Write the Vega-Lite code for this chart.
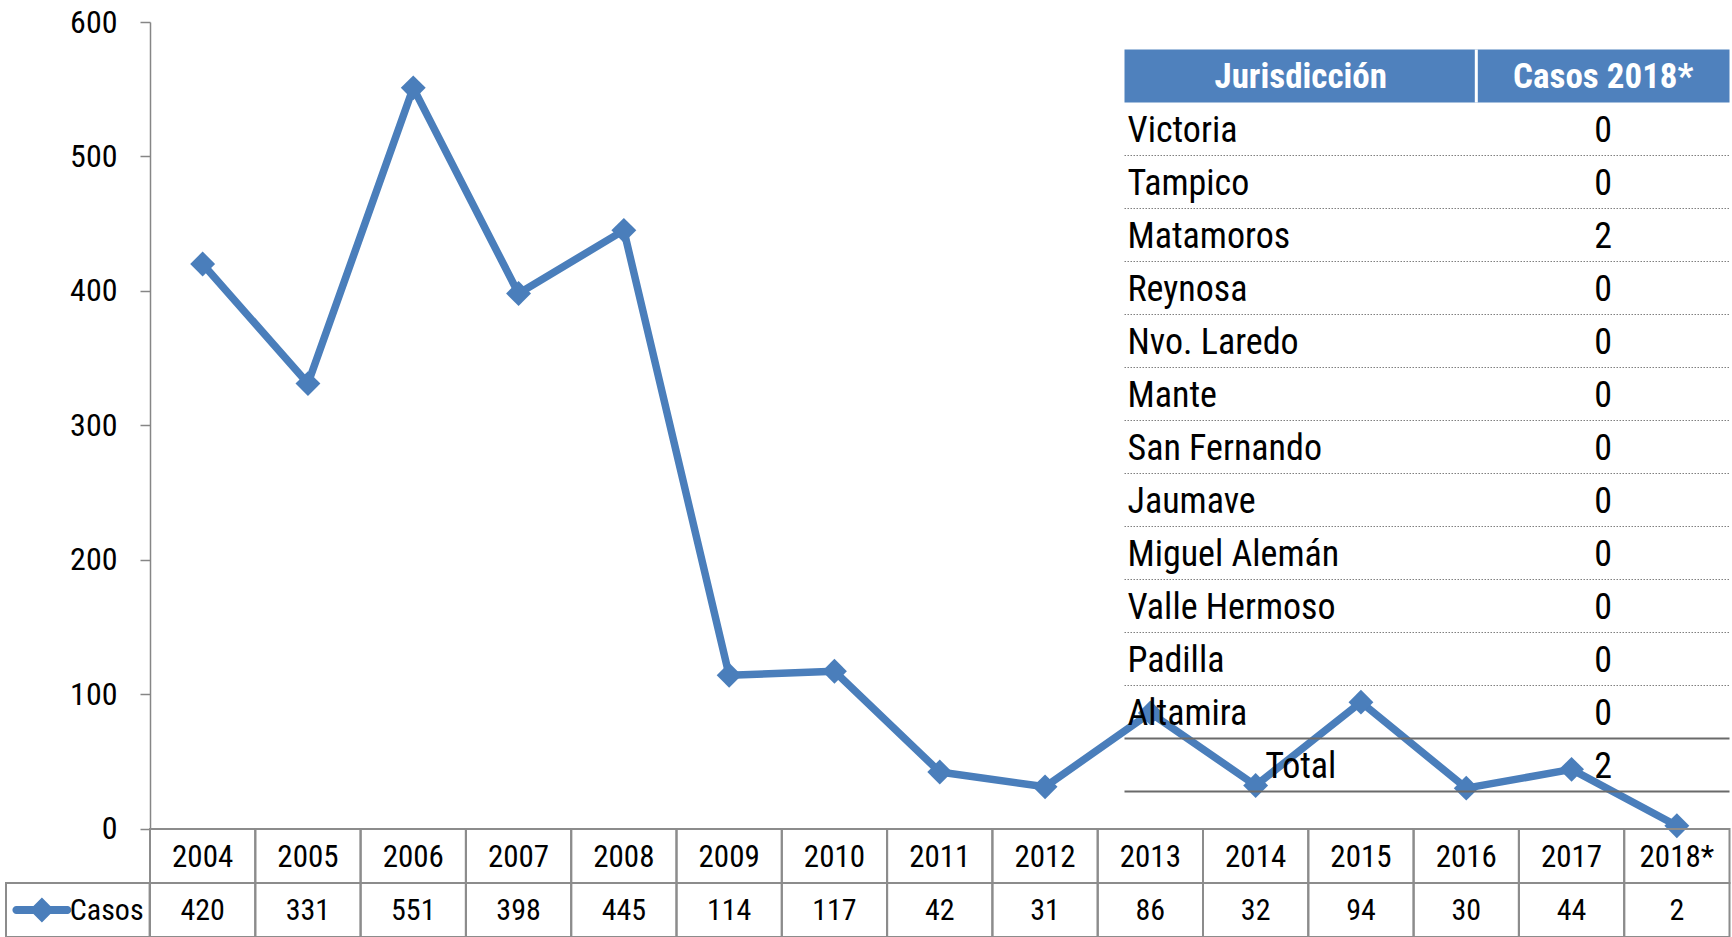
{
  "$schema": "https://vega.github.io/schema/vega-lite/v6.json",
  "padding": {"left": 5, "top": 6, "right": 2, "bottom": 0},
  "background": "white",
  "config": {"font": "'Roboto Condensed', 'DejaVu Sans Condensed', sans-serif", "view": {"stroke": null}},
  "datasets": {
    "casos": [
      {"year": "2004", "casos": 420}, {"year": "2005", "casos": 331}, {"year": "2006", "casos": 551},
      {"year": "2007", "casos": 398}, {"year": "2008", "casos": 445}, {"year": "2009", "casos": 114},
      {"year": "2010", "casos": 117}, {"year": "2011", "casos": 42}, {"year": "2012", "casos": 31},
      {"year": "2013", "casos": 86}, {"year": "2014", "casos": 32}, {"year": "2015", "casos": 94},
      {"year": "2016", "casos": 30}, {"year": "2017", "casos": 44}, {"year": "2018*", "casos": 2}
    ],
    "jurisdicciones": [
      {"jur": "Victoria", "casos": 0}, {"jur": "Tampico", "casos": 0}, {"jur": "Matamoros", "casos": 2},
      {"jur": "Reynosa", "casos": 0}, {"jur": "Nvo. Laredo", "casos": 0}, {"jur": "Mante", "casos": 0},
      {"jur": "San Fernando", "casos": 0}, {"jur": "Jaumave", "casos": 0}, {"jur": "Miguel Alemán", "casos": 0},
      {"jur": "Valle Hermoso", "casos": 0}, {"jur": "Padilla", "casos": 0}, {"jur": "Altamira", "casos": 0},
      {"jur": "Total", "casos": 2}
    ],
    "encabezado": [{"col": "Jurisdicción"}, {"col": "Casos 2018*"}]
  },
  "columns": 2,
  "spacing": 0,
  "bounds": "flush",
  "align": "each",
  "concat": [
    {
      "width": 143.6, "height": 806.5,
      "data": {"values": []},
      "mark": {"type": "text"},
      "encoding": {}
    },
    {
      "width": 1579.5, "height": 806.5,
      "layer": [
        {
          "data": {"name": "casos"},
          "encoding": {
            "x": {"field": "year", "type": "ordinal", "sort": null, "axis": null, "scale": {"type": "point", "padding": 0.5}},
            "y": {"field": "casos", "type": "quantitative",
              "scale": {"domain": [0, 600], "nice": false, "zero": true},
              "axis": {"values": [0, 100, 200, 300, 400, 500, 600], "title": null, "grid": false,
                "tickSize": 10, "tickColor": "#868686", "tickWidth": 1.5,
                "domainColor": "#868686", "domainWidth": 1.5,
                "labelFontSize": 32, "labelColor": "#000000", "labelPadding": 23}}
          },
          "layer": [
            {"mark": {"type": "line", "color": "#4A7EBB", "strokeWidth": 7.5, "strokeJoin": "round", "strokeCap": "round"}},
            {"mark": {"type": "point", "shape": "diamond", "filled": true, "size": 620, "color": "#4A7EBB", "opacity": 1}}
          ]
        },
        {
          "encoding": {
            "y": {"type": "nominal", "axis": null,
              "scale": {"type": "band", "domain": ["Jurisdicción", "Victoria", "Tampico", "Matamoros", "Reynosa", "Nvo. Laredo", "Mante", "San Fernando", "Jaumave", "Miguel Alemán", "Valle Hermoso", "Padilla", "Altamira", "Total"],
                "paddingInner": 0, "paddingOuter": 0.6085, "align": 0.4264}}
          },
          "layer": [
            {
              "data": {"name": "encabezado"},
              "transform": [{"filter": "datum.col === 'Jurisdicción'"}],
              "mark": {"type": "rect", "fill": "#4F81BD"},
              "encoding": {
                "x": {"datum": "Jurisdicción", "type": "nominal", "bandPosition": 0, "axis": null,
                  "scale": {"type": "band", "domain": ["Jurisdicción", "Casos 2018*"], "paddingInner": 0, "paddingOuter": 0,
                    "range": [974.5, 1579.5]}},
                "x2": {"datum": "Casos 2018*", "bandPosition": 1},
                "y": {"datum": "Jurisdicción", "type": "nominal"}
              }
            },
            {
              "data": {"name": "encabezado"},
              "transform": [{"filter": "datum.col === 'Casos 2018*'"}],
              "mark": {"type": "rule", "color": "#ffffff", "strokeWidth": 3},
              "encoding": {
                "x": {"field": "col", "type": "nominal", "bandPosition": 0.163},
                "y": {"datum": "Jurisdicción", "type": "nominal", "bandPosition": 0},
                "y2": {"datum": "Jurisdicción", "bandPosition": 1}
              }
            },
            {
              "data": {"name": "encabezado"},
              "mark": {"type": "text", "color": "#ffffff", "fontWeight": "bold", "fontSize": 35, "align": "center", "baseline": "middle", "dx": 25, "dy": 1},
              "encoding": {
                "x": {"field": "col", "type": "nominal", "sort": null},
                "y": {"datum": "Jurisdicción", "type": "nominal"},
                "text": {"field": "col"}
              }
            },
            {
              "data": {"name": "jurisdicciones"},
              "transform": [{"filter": "datum.jur !== 'Total'"}],
              "mark": {"type": "text", "color": "#000000", "fontSize": 36, "align": "left", "baseline": "middle", "dx": 3, "dy": 2},
              "encoding": {
                "x": {"datum": "Jurisdicción", "type": "nominal", "bandPosition": 0},
                "y": {"field": "jur", "type": "nominal"},
                "text": {"field": "jur"}
              }
            },
            {
              "data": {"name": "jurisdicciones"},
              "transform": [{"filter": "datum.jur === 'Total'"}],
              "mark": {"type": "text", "color": "#000000", "fontSize": 36, "align": "center", "baseline": "middle", "dx": 25, "dy": 2},
              "encoding": {
                "x": {"datum": "Jurisdicción", "type": "nominal"},
                "y": {"field": "jur", "type": "nominal"},
                "text": {"field": "jur"}
              }
            },
            {
              "data": {"name": "jurisdicciones"},
              "mark": {"type": "text", "color": "#000000", "fontSize": 36, "align": "center", "baseline": "middle", "dx": 25, "dy": 2},
              "encoding": {
                "x": {"datum": "Casos 2018*", "type": "nominal"},
                "y": {"field": "jur", "type": "nominal"},
                "text": {"field": "casos"}
              }
            },
            {
              "data": {"name": "jurisdicciones"},
              "transform": [{"filter": "datum.jur !== 'Total' && datum.jur !== 'Altamira'"}],
              "mark": {"type": "rule", "color": "#808080", "strokeWidth": 1.2, "strokeDash": [1.5, 1.5]},
              "encoding": {
                "x": {"datum": "Jurisdicción", "type": "nominal", "bandPosition": 0},
                "x2": {"datum": "Casos 2018*", "bandPosition": 1},
                "y": {"field": "jur", "type": "nominal", "bandPosition": 1}
              }
            },
            {
              "data": {"name": "jurisdicciones"},
              "transform": [{"filter": "datum.jur === 'Total' || datum.jur === 'Altamira'"}],
              "mark": {"type": "rule", "color": "#6a6a6a", "strokeWidth": 2},
              "encoding": {
                "x": {"datum": "Jurisdicción", "type": "nominal", "bandPosition": 0},
                "x2": {"datum": "Casos 2018*", "bandPosition": 1},
                "y": {"field": "jur", "type": "nominal", "bandPosition": 1}
              }
            }
          ]
        }
      ],
      "resolve": {"scale": {"x": "independent", "y": "independent"}, "axis": {"x": "independent", "y": "independent"}}
    },
    {
      "width": 143.6, "height": 108,
      "data": {"values": [{"serie": "Casos"}]},
      "encoding": {
        "y": {"datum": "Casos", "type": "nominal", "axis": null,
          "scale": {"type": "band", "domain": ["Año", "Casos"], "paddingInner": 0, "paddingOuter": 0}}
      },
      "layer": [
        {"mark": {"type": "rect", "filled": false, "stroke": "#8c8c8c", "strokeWidth": 2}},
        {
          "mark": {"type": "point", "shape": "M-0.864,-0.136L0.864,-0.136A0.136,0.136 0 0 1 0.864,0.136L-0.864,0.136A0.136,0.136 0 0 1 -0.864,-0.136ZM-0.42,0L0,-0.42L0.42,0L0,0.42Z", "size": 3481, "filled": true, "color": "#4A7EBB", "opacity": 1},
          "encoding": {
            "x": {"datum": "símbolo", "type": "nominal", "axis": null,
              "scale": {"type": "band", "domain": ["símbolo", "serie"], "paddingInner": 0, "paddingOuter": 0}}
          }
        },
        {
          "mark": {"type": "text", "fontSize": 30, "color": "#000000", "align": "right", "baseline": "middle", "dy": 1, "dx": -6},
          "encoding": {
            "x": {"datum": "serie", "type": "nominal", "bandPosition": 1},
            "text": {"field": "serie"}
          }
        }
      ]
    },
    {
      "width": 1579.5, "height": 108,
      "data": {"name": "casos"},
      "encoding": {
        "x": {"field": "year", "type": "ordinal", "sort": null, "axis": null,
          "scale": {"type": "band", "paddingInner": 0, "paddingOuter": 0}}
      },
      "layer": [
        {
          "mark": {"type": "rect", "filled": false, "stroke": "#8c8c8c", "strokeWidth": 2},
          "encoding": {"y": {"datum": "Año", "type": "nominal", "axis": null,
            "scale": {"type": "band", "domain": ["Año", "Casos"], "paddingInner": 0, "paddingOuter": 0}}}
        },
        {
          "mark": {"type": "rect", "filled": false, "stroke": "#8c8c8c", "strokeWidth": 2},
          "encoding": {"y": {"datum": "Casos", "type": "nominal"}}
        },
        {
          "mark": {"type": "text", "fontSize": 31, "color": "#000000", "align": "center", "baseline": "middle", "dy": 2},
          "encoding": {"y": {"datum": "Año", "type": "nominal"}, "text": {"field": "year"}}
        },
        {
          "mark": {"type": "text", "fontSize": 30, "color": "#000000", "align": "center", "baseline": "middle", "dy": 1},
          "encoding": {"y": {"datum": "Casos", "type": "nominal"}, "text": {"field": "casos"}}
        }
      ]
    }
  ]
}
